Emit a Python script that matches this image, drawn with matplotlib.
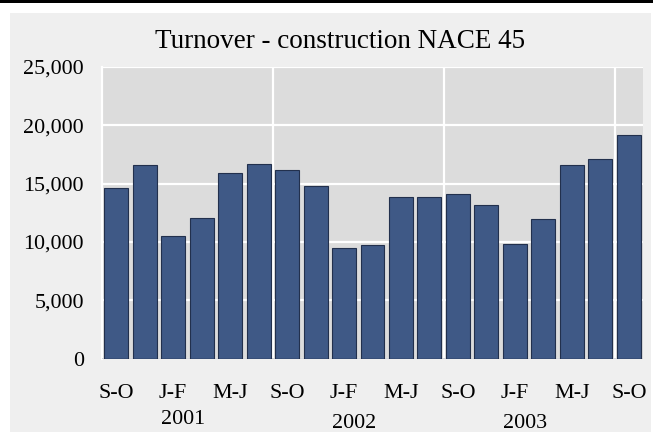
import matplotlib
matplotlib.use("Agg")
import matplotlib.pyplot as plt
from matplotlib.patches import Rectangle
from matplotlib.transforms import blended_transform_factory

periods = ["S-O", "N-D", "J-F", "M-A", "M-J", "J-A", "S-O", "N-D", "J-F", "M-A",
           "M-J", "J-A", "S-O", "N-D", "J-F", "M-A", "M-J", "J-A", "S-O"]
turnover = [14650, 16580, 10540, 12090, 15890, 16690, 16150, 14800, 9510, 9770,
            13890, 13860, 14120, 13170, 9820, 12000, 16610, 17070, 19130]
years = ["2001", "2002", "2003"]
year_pos = [2, 8, 14]
y_ticks = [0, 5000, 10000, 15000, 20000, 25000]
title = "Turnover - construction NACE 45"

plt.rcParams['font.family'] = ['Liberation Serif', 'DejaVu Serif']

W, H = 653, 432
fig = plt.figure(figsize=(W / 100, H / 100), dpi=100)
fig.patch.set_facecolor("white")
# outer gray panel and top black band
fig.patches.append(Rectangle((10 / W, 0), (651 - 10) / W, (H - 13) / H,
                             transform=fig.transFigure, facecolor="#efefef",
                             edgecolor="none", zorder=-10))
fig.patches.append(Rectangle((0, 1 - 3 / H), 1, 3 / H,
                             transform=fig.transFigure, facecolor="black",
                             edgecolor="none", zorder=-10))

left, right, top, bottom = 102, 643, 67, 358.5
ax = fig.add_axes([left / W, 1 - bottom / H, (right - left) / W, (bottom - top) / H])
ax.set_facecolor("#dcdcdc")

x = list(range(len(periods)))
ax.bar(x, turnover, width=0.84, color="#3f5986", edgecolor="#22304d",
       linewidth=0.8, zorder=3)

ax.set_xlim(-0.5, len(periods) - 0.5)
ax.set_ylim(0, 25000)
ax.set_yticks(y_ticks)
ax.set_yticklabels([f"{v:,}" for v in y_ticks])
ax.grid(axis="y", color="white", linewidth=1.6, zorder=1)
for b in (5.5, 11.5, 17.5):
    ax.axvline(b, color="white", linewidth=1.6, zorder=1)

ax.set_xticks(x[::2])
ax.set_xticklabels(periods[::2])
ax.tick_params(axis="both", length=0, labelsize=15.8, colors="black")
ax.tick_params(axis="x", pad=18)
ax.tick_params(axis="y", pad=13)

for s in ("top", "right", "bottom"):
    ax.spines[s].set_visible(False)
ax.spines["left"].set_color("white")
ax.spines["left"].set_linewidth(1.6)
ax.axhline(0, color="#22304d", linewidth=1.0, zorder=4)

trans = blended_transform_factory(ax.transData, ax.transAxes)
year_y = [-(419 - bottom) / (bottom - top), -(424 - bottom) / (bottom - top),
          -(424 - bottom) / (bottom - top)]
for yr, p, yy in zip(years, year_pos, year_y):
    ax.text(p + 0.35, yy, yr, transform=trans, ha="center", va="center",
            fontsize=15.8)

fig.text(340 / W, 1 - 41 / H, title, ha="center", va="center", fontsize=19.5)

fig.savefig("out.png", dpi=100, facecolor=fig.get_facecolor())
